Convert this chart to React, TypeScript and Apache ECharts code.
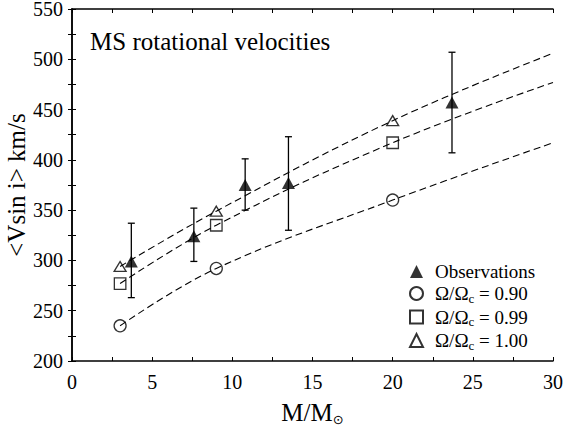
import React, { useEffect, useRef } from "react";
import * as echarts from "echarts";

// Observations (filled triangles with error bars)
const obsX = [3.7, 7.6, 10.8, 13.5, 23.7];
const obsY = [299, 324, 375, 377, 457];
const obsLow = [263, 299, 350, 330, 407];
const obsHigh = [337, 352, 401, 423, 507];

// Model points
const modelX = [3, 9, 20];
const model090 = [235, 292, 360];
const model099 = [277, 335, 417];
const model100 = [294, 349, 439];

// Dashed model curves
const curveX = [3, 9, 20, 30];
const curve090 = [235, 292, 360, 417];
const curve099 = [277, 335, 417, 477];
const curve100 = [294, 349, 439, 506];

const xTicks = [0, 5, 10, 15, 20, 25, 30];
const yTicks = [200, 250, 300, 350, 400, 450, 500, 550];

const FONT = "'Liberation Serif', 'Times New Roman', serif";

const pairs = (xs: number[], ys: number[]) => xs.map((x, i) => [x, ys[i]]);

export default function App() {
  const ref = useRef<HTMLDivElement>(null);
  useEffect(() => {
    document.body.style.margin = "0";
    if (!ref.current) return;
    const chart = echarts.init(ref.current, undefined, { renderer: "svg" });
    const axisLine = { show: true, lineStyle: { color: "#000", width: 1.5 } };
    const tick = { show: true, inside: true, length: 4, lineStyle: { color: "#000", width: 1 } };
    const openStyle = { color: "rgba(0,0,0,0)", borderColor: "#000", borderWidth: 1.3 };
    const dash = { color: "#000", width: 1.1, type: [7, 4] as any };
    const option: any = {
      animation: false,
      backgroundColor: "#fff",
      title: {
        text: "MS rotational velocities",
        left: 90,
        top: 29,
        padding: 0,
        textStyle: { fontFamily: FONT, fontSize: 25, fontWeight: "normal", color: "#000" },
      },
      grid: { left: 72, right: 14, top: 9, bottom: 69, containLabel: false, outerBoundsMode: "none" },
      legend: {
        orient: "vertical",
        left: 409,
        top: 262,
        itemWidth: 13,
        itemHeight: 13,
        itemGap: 3,
        selectedMode: false,
        padding: 0,
        data: [
          { name: "Observations", icon: "triangle" },
          { name: "Ω/Ωc = 0.90", icon: "circle" },
          { name: "Ω/Ωc = 0.99", icon: "rect" },
          { name: "Ω/Ωc = 1.00", icon: "triangle" },
        ],
        formatter: (name: string) =>
          name.startsWith("Ω")
            ? `{g| }{a|Ω/Ω}{s|c}{a| = ${name.split("= ")[1]}}`
            : `{g| }{a|${name}}`,
        textStyle: {
          fontFamily: FONT,
          fontSize: 19,
          color: "#000",
          rich: {
            g: { width: 7, fontSize: 19, lineHeight: 22 },
            a: { fontFamily: FONT, fontSize: 19, color: "#000", lineHeight: 22 },
            s: { fontFamily: FONT, fontSize: 13, color: "#000", lineHeight: 13, verticalAlign: "bottom" },
          },
        },
      },
      xAxis: [
        {
          type: "value",
          min: 0,
          max: 30,
          interval: 2.5,
          position: "bottom",
          axisLine,
          axisTick: tick,
          splitLine: { show: false },
          axisLabel: {
            margin: 11,
            fontFamily: FONT,
            fontSize: 20,
            color: "#000",
            formatter: (v: number) => (xTicks.includes(v) ? String(v) : ""),
          },
          name: "{m|M/M}{s|⊙}",
          nameLocation: "middle",
          nameGap: 37,
          nameTextStyle: {
            rich: {
              m: { fontFamily: FONT, fontSize: 25, color: "#000", lineHeight: 28 },
              s: { fontFamily: "DejaVu Sans", fontSize: 13, color: "#000", lineHeight: 14, verticalAlign: "bottom" },
            },
          },
        },
        {
          type: "value",
          min: 0,
          max: 30,
          interval: 2.5,
          position: "top",
          axisLine,
          axisTick: tick,
          splitLine: { show: false },
          axisLabel: { show: false },
        },
      ],
      yAxis: [
        {
          type: "value",
          min: 200,
          max: 550,
          interval: 25,
          position: "left",
          axisLine,
          axisTick: tick,
          splitLine: { show: false },
          axisLabel: {
            margin: 9,
            fontFamily: FONT,
            fontSize: 20,
            lineHeight: 16,
            color: "#000",
            formatter: (v: number) => (yTicks.includes(v) ? String(v) : ""),
          },
          name: "<Vsin i> km/s",
          nameLocation: "middle",
          nameGap: 43,
          nameMoveOverlap: false,
          nameTextStyle: { fontFamily: FONT, fontSize: 25, color: "#000", lineHeight: 26 },
        },
        {
          type: "value",
          min: 200,
          max: 550,
          interval: 25,
          position: "right",
          axisLine,
          axisTick: tick,
          splitLine: { show: false },
          axisLabel: { show: false },
        },
      ],
      series: [
        {
          name: "fit090",
          type: "line",
          data: pairs(curveX, curve090),
          symbol: "none",
          smooth: 0.4,
          lineStyle: dash,
          silent: true,
          z: 1,
        },
        {
          name: "fit099",
          type: "line",
          data: pairs(curveX, curve099),
          symbol: "none",
          smooth: 0.4,
          lineStyle: dash,
          silent: true,
          z: 1,
        },
        {
          name: "fit100",
          type: "line",
          data: pairs(curveX, curve100),
          symbol: "none",
          smooth: 0.4,
          lineStyle: dash,
          silent: true,
          z: 1,
        },
        {
          name: "errors",
          type: "custom",
          data: obsX.map((x, i) => [x, obsY[i], obsLow[i], obsHigh[i]]),
          encode: { x: 0, y: [1, 2, 3] },
          silent: true,
          z: 2,
          renderItem: (params: any, api: any) => {
            const x = api.value(0);
            const lo = api.coord([x, api.value(2)]);
            const hi = api.coord([x, api.value(3)]);
            const w = 3.5;
            const style = { stroke: "#000", lineWidth: 1.3 };
            return {
              type: "group",
              children: [
                { type: "line", shape: { x1: lo[0], y1: lo[1], x2: hi[0], y2: hi[1] }, style },
                { type: "line", shape: { x1: lo[0] - w, y1: lo[1], x2: lo[0] + w, y2: lo[1] }, style },
                { type: "line", shape: { x1: hi[0] - w, y1: hi[1], x2: hi[0] + w, y2: hi[1] }, style },
              ],
            };
          },
        },
        {
          name: "Observations",
          type: "scatter",
          data: pairs(obsX, obsY),
          symbol: "triangle",
          symbolSize: [13, 12],
          itemStyle: { color: "#000" },
          z: 3,
        },
        {
          name: "Ω/Ωc = 0.90",
          type: "scatter",
          data: pairs(modelX, model090),
          symbol: "circle",
          symbolSize: 12,
          itemStyle: openStyle,
          z: 3,
        },
        {
          name: "Ω/Ωc = 0.99",
          type: "scatter",
          data: pairs(modelX, model099),
          symbol: "rect",
          symbolSize: 11.5,
          itemStyle: openStyle,
          z: 3,
        },
        {
          name: "Ω/Ωc = 1.00",
          type: "scatter",
          data: pairs(modelX, model100),
          symbol: "triangle",
          symbolSize: [12, 10],
          itemStyle: openStyle,
          z: 3,
        },
      ],
    };
    chart.setOption(option);
    return () => chart.dispose();
  }, []);
  return <div ref={ref} style={{ width: 567, height: 430 }} />;
}
